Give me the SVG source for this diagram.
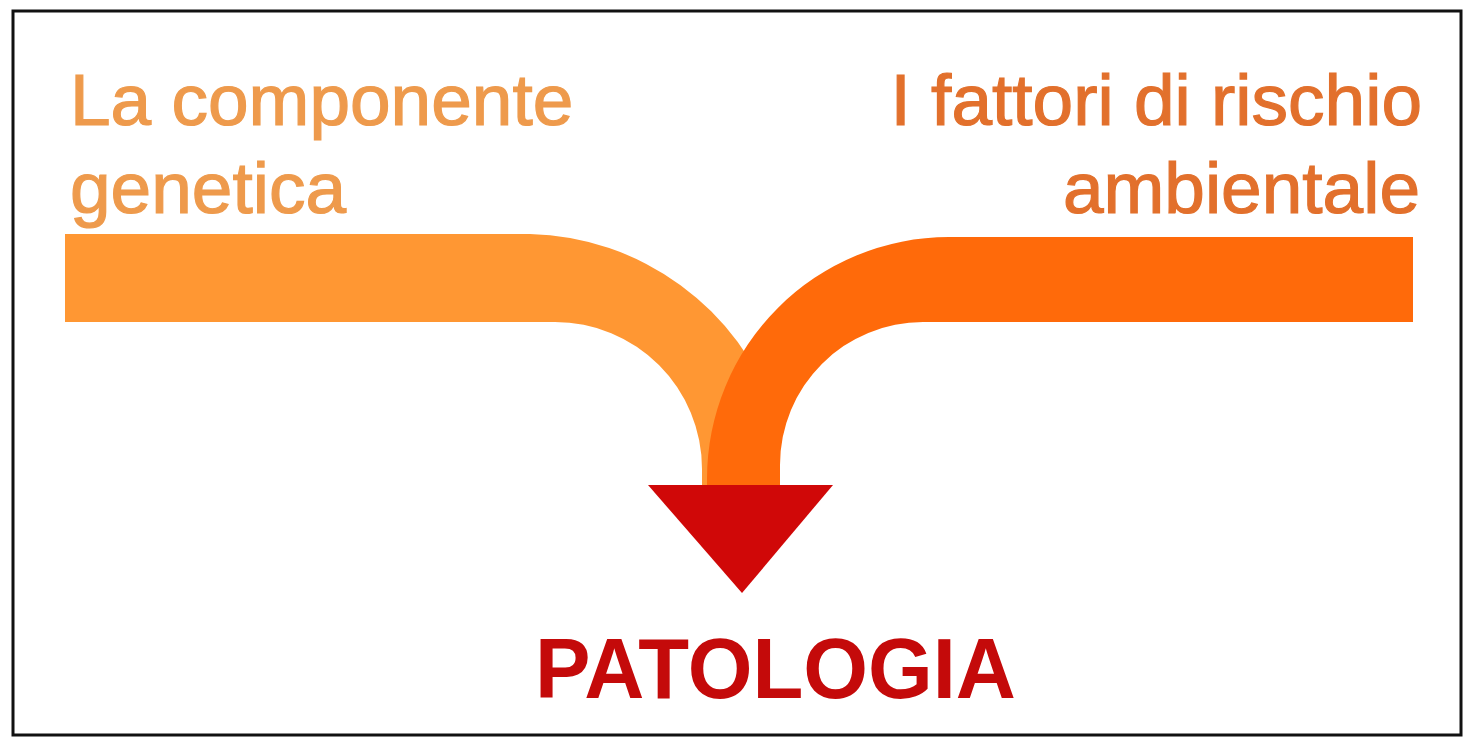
<svg xmlns="http://www.w3.org/2000/svg" width="1468" height="737" viewBox="0 0 1468 737">
<style>
.lbl{font-family:"Liberation Sans",Arial,sans-serif;font-size:73px;stroke-width:1.2px}
.left{fill:#EE9A4C;stroke:#EE9A4C}
.right{fill:#E2702C;stroke:#E2702C}
.res{font-family:"Liberation Sans",Arial,sans-serif;font-size:86px;font-weight:bold;fill:#C40A0A}
</style>
<rect x="0" y="0" width="1468" height="737" fill="#ffffff"/>
<rect id="frame" x="13" y="11" width="1448" height="724" fill="#ffffff" stroke="#111" stroke-width="3"/>
<g id="connectors">
<path id="band-left" fill="#FF9733" d="M65,234 L530,234 A266,266 0 0 1 775,413 L775,485 L702,485 L702,469 A147,147 0 0 0 555,322 L65,322 Z"/>
<path id="band-right" fill="#FF6A0A" d="M1413,237 L949,237 A242,242 0 0 0 707,479 L707,485 L780,485 L780,465 A143,143 0 0 1 923,322 L1413,322 Z"/>
<polygon id="arrowhead" fill="#D00808" points="648,485 833,485 742,593"/>
</g>
<g id="node-genetica">
<text class="lbl left" x="70" y="125">La componente</text>
<text class="lbl left" x="70" y="213">genetica</text>
</g>
<g id="node-ambientale">
<text class="lbl right" x="1422" y="125" text-anchor="end">I fattori di rischio</text>
<text class="lbl right" x="1420" y="213" text-anchor="end">ambientale</text>
</g>
<g id="node-patologia">
<text class="res" x="535" y="698" textLength="481" lengthAdjust="spacingAndGlyphs">PATOLOGIA</text>
</g>
</svg>
